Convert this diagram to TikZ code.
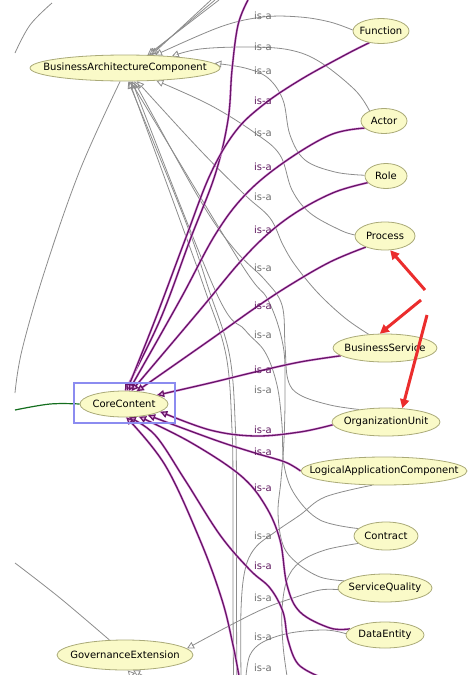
\documentclass[tikz,border=0pt]{standalone}
\usepackage{fontspec}
\setmainfont{DejaVu Sans}
\usetikzlibrary{shapes.geometric,arrows.meta}
\pgfdeclarelayer{bg}
\pgfsetlayers{bg,main}
\definecolor{nodefill}{RGB}{250,250,200}
\definecolor{nodedraw}{RGB}{170,170,120}
\definecolor{edgegray}{RGB}{140,140,140}
\definecolor{edgepurple}{RGB}{105,20,105}
\definecolor{purpleglow}{RGB}{230,170,230}
\definecolor{labgray}{RGB}{110,110,110}
\definecolor{labpurple}{RGB}{95,25,95}
\definecolor{boxblue}{RGB}{140,140,240}
\definecolor{arrowred}{RGB}{235,45,45}
\definecolor{linkgreen}{RGB}{20,110,30}
\newcommand{\clsname}[1]{\makebox[0pt]{#1}}
\begin{document}
\begin{tikzpicture}[x=1pt,y=-1pt,
  cls/.style={ellipse, draw=nodedraw, fill=nodefill, line width=0.8pt, inner sep=0pt, font=\fontsize{10}{12}\selectfont},
  isagray/.style={font=\fontsize{10}{12}\selectfont, inner sep=0pt, text=labgray},
  isapurple/.style={font=\fontsize{10}{12}\selectfont, inner sep=0pt, text=labpurple},
  gedge/.style={draw=edgegray, line width=0.8pt, -{Triangle[open,length=7pt,width=7pt]}},
  gline/.style={draw=edgegray, line width=0.8pt},
  pedge/.style={draw=edgepurple, line width=1.3pt, preaction={draw=purpleglow, line width=2.3pt, arrows=-}, -{Triangle[open,length=7pt,width=7pt]}},
  redarrow/.style={draw=arrowred, line width=3pt, -{Triangle[length=9pt,width=9pt]}},
  pl/.style={smooth, tension=0.6},
]
\useasboundingbox (0,0) rectangle (468,675);

% ---------- nodes ----------
\node[cls, minimum width=190pt, minimum height=26pt] (BAC) at (125,68) {\clsname{BusinessArchitectureComponent}};
\node[draw=boxblue, line width=2.5pt, minimum width=101pt, minimum height=40pt, inner sep=0pt] (sel) at (124.5,403) {};
\node[cls, minimum width=88pt, minimum height=26pt] (CC) at (124,404) {\clsname{CoreContent}};
\node[cls, minimum width=56pt, minimum height=25pt] (Function) at (381,31) {\clsname{Function}};
\node[cls, minimum width=46pt, minimum height=25pt] (Actor) at (384,121) {\clsname{Actor}};
\node[cls, minimum width=42pt, minimum height=25pt] (Role) at (386,176) {\clsname{Role}};
\node[cls, minimum width=60pt, minimum height=28pt] (Process) at (385,236) {\clsname{Process}};
\node[cls, minimum width=104pt, minimum height=28pt] (BS) at (385,348) {\clsname{BusinessService}};
\node[cls, minimum width=108pt, minimum height=28pt] (OU) at (386,422) {\clsname{OrganizationUnit}};
\node[cls, minimum width=166pt, minimum height=28pt] (LAC) at (384,471) {\clsname{LogicalApplicationComponent}};
\node[cls, minimum width=64pt, minimum height=28pt] (Contract) at (386,536) {\clsname{Contract}};
\node[cls, minimum width=94pt, minimum height=28pt] (SQ) at (385,588) {\clsname{ServiceQuality}};
\node[cls, minimum width=78pt, minimum height=26pt] (DE) at (385,635) {\clsname{DataEntity}};
\node[cls, minimum width=136pt, minimum height=30pt] (GE) at (125,655) {\clsname{GovernanceExtension}};

% free ends
\coordinate (t1) at (211,0);
\coordinate (t2) at (215,0);
\coordinate (t3) at (219,0);
\coordinate (tlA) at (52,3);
\coordinate (tlB) at (15,53);
\coordinate (ll) at (15,393);
\coordinate (ll2) at (15,563);
\coordinate (gl) at (15,410);
\coordinate (b1) at (233.5,676);
\coordinate (b2) at (236.8,676);
\coordinate (b3) at (241,676);
\coordinate (b4) at (287,676);
\coordinate (b5) at (246,676);
\coordinate (g1) at (140,684);
\coordinate (g2) at (158,684);
\coordinate (pt) at (248,0);
\coordinate (pb1) at (318,676);
\coordinate (pb2) at (239,676);
\coordinate (r1) at (425,290);
\coordinate (r2) at (421,300);
\coordinate (r3) at (427,315);

% ---------- is-a labels ----------
\foreach \yy [count=\i] in {16,47,71,133,197,268,335,390,536,598,637,668}
  \node[isagray] (lg\i) at (263,\yy) {is-a};
\foreach \yy [count=\i] in {101,167,230,306,370,430,452,488,566}
  \node[isapurple] (lp\i) at (263,\yy) {is-a};

% ---------- connectors ----------
\begin{pgfonlayer}{bg}
% gray edges to BusinessArchitectureComponent
\draw[gedge] plot[pl] coordinates {(Function.178) (330,22) (300,17) (263,17) (220,27) (BAC.23)};
\draw[gedge] plot[pl] coordinates {(Actor.145) (355,90) (320,62) (290,50) (250,47) (200,49) (BAC.14)};
\draw[gedge] plot[pl] coordinates {(Role.178) (335,172) (305,160) (290,135) (283,100) (268,78) (245,68) (BAC.3)};
\draw[gedge] plot[pl] coordinates {(Process.178) (340,230) (310,213) (292,190) (280,155) (255,133) (210,105) (BAC.-22)};
\draw[gedge] plot[pl] coordinates {(BS.140) (345,318) (318,293) (295,265) (283,245) (270,218) (245,195) (200,150) (BAC.-48)};
\draw[gedge] plot[pl] coordinates {(OU.155) (330,405) (300,395) (288,380) (285,345) (282,305) (265,280) (235,250) (200,200) (BAC.-55)};
\draw[gedge] plot[pl] coordinates {(Contract.165) (320,520) (295,495) (284,465) (282,425) (277,385) (265,352) (245,330) (215,290) (BAC.-62)};
\draw[gedge] plot[pl] coordinates {(SQ.170) (320,577) (297,563) (283,545) (278,513) (281,480) (284,440) (285,390) (283,345) (268,300) (240,262) (BAC.-67)};
\draw[gedge] plot[pl] coordinates {(b1) (233,600) (233,500) (232,430) (226,355) (205,290) (180,220) (BAC.-72)};
\draw[gedge] plot[pl] coordinates {(b2) (236.5,600) (236.5,500) (235.5,430) (229.5,355) (209,290) (185,220) (BAC.-76)};
\draw[gedge] (t1) -- (BAC.26);
\draw[gedge] (t2) -- (BAC.28);
\draw[gedge] (t3) -- (BAC.30);
% other gray lines
\draw[gline] plot[pl] coordinates {(LAC.230) (325,497) (300,515) (275,532) (255,548) (245,570) (241,610) (b3)};
\draw[gline] plot[pl] coordinates {(Contract.195) (325,550) (300,562) (287,580) (282,610) (283,645) (b4)};
\draw[gline] plot[pl] coordinates {(DE.178) (325,630) (290,633) (263,642) (250,655) (b5)};
\draw[gedge] plot[pl] coordinates {(SQ.182) (320,590) (293,598) (263,609) (225,628) (GE.6)};
\draw[gline] plot[pl] coordinates {(tlA) (30,25) (tlB)};
\draw[gline] plot[pl] coordinates {(BAC.250) (80,170) (45,270) (22,350) (ll)};
\draw[gline] plot[pl] coordinates {(ll2) (60,598) (GE.136)};
\draw[gedge] (g1) -- (GE.-80);
\draw[gedge] (g2) -- (GE.-62);
% green link
\draw[draw=linkgreen, line width=1.2pt] plot[pl] coordinates {(CC.180) (50,404) (gl)};
% purple edges to CoreContent
\draw[pedge] plot[pl] coordinates {(pt) (238,25) (232,70) (228,120) (215,175) (190,240) (160,320) (CC.85)};
\draw[pedge] plot[pl] coordinates {(Function.225) (345,55) (300,80) (263,105) (235,132) (210,175) (185,240) (155,320) (CC.78)};
\draw[pedge] plot[pl] coordinates {(Actor.200) (330,135) (283,163) (245,195) (215,235) (180,300) (CC.70)};
\draw[pedge] plot[pl] coordinates {(Role.200) (335,192) (300,210) (270,232) (240,262) (200,310) (CC.60)};
\draw[pedge] plot[pl] coordinates {(Process.210) (330,262) (290,285) (255,308) (210,340) (CC.45)};
\draw[pedge] plot[pl] coordinates {(BS.190) (300,362) (255,372) (210,383) (CC.15)};
\draw[pedge] plot[pl] coordinates {(OU.183) (300,432) (255,436) (210,430) (CC.-12)};
\draw[pedge] plot[pl] coordinates {(LAC.180) (285,462) (255,453) (215,440) (CC.-25)};
\draw[pedge] plot[pl] coordinates {(DE.170) (330,628) (300,612) (287,585) (280,540) (265,505) (240,475) (190,442) (CC.-40)};
\draw[pedge] plot[pl] coordinates {(pb1) (298,664) (288,640) (283,612) (270,588) (250,570) (220,535) (185,480) (155,435) (CC.-70)};
\draw[pedge] plot[pl] coordinates {(pb2) (233,645) (222,600) (200,540) (165,465) (CC.-80)};
\end{pgfonlayer}

% red arrows
\draw[redarrow] (r1) -- (Process.-70);
\draw[redarrow] (r2) -- (BS.110);
\draw[redarrow] (r3) -- (OU.40);
\end{tikzpicture}
\end{document}
